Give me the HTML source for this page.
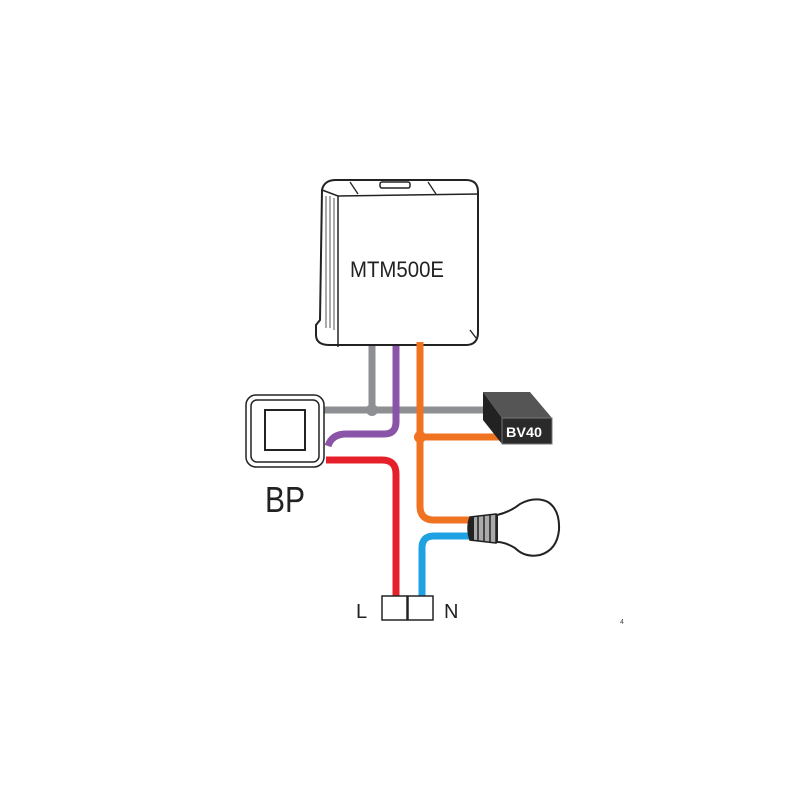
<!DOCTYPE html>
<html><head><style>body{margin:0;background:#fff}svg{display:block}</style></head>
<body>
<svg width="800" height="800" xmlns="http://www.w3.org/2000/svg">
<!-- MTM500E box -->
<path d="M322,190 Q324,180 336,180 L466,180 Q478,180 478,192 L478,332 Q478,345 466,345 L330,345 Q316,345 316,335 L316,325 L320,320 Z" fill="#fff" stroke="#222" stroke-width="2"/>
<path d="M322,190 L338,196 L478,194" fill="none" stroke="#222" stroke-width="1.5"/>
<line x1="338" y1="196" x2="338" y2="347" stroke="#222" stroke-width="1.5"/>
<path d="M326,196 L326,328 M330,196 L330,328 M334,198 L334,330" stroke="#555" stroke-width="1"/>
<rect x="380" y="182" width="30" height="6" rx="2" fill="#fff" stroke="#222" stroke-width="1.5"/>
<path d="M350,182 L358,194 M428,182 L436,194 M470,330 L476,338" stroke="#222" stroke-width="1.3"/>
<text x="350" y="277" font-family="Liberation Sans, sans-serif" font-size="22" fill="#222" textLength="94" lengthAdjust="spacingAndGlyphs">MTM500E</text>
<!-- wires -->
<g fill="none" stroke-width="7" stroke-linecap="butt">
<path d="M372,346 L372,410" stroke="#8e8f92"/>
<path d="M324,410 L488,410" stroke="#8e8f92"/>
<path d="M396,346 L396,422 Q396,434 384,434 L346,434 Q332,434 328,446" stroke="#8a55a8"/>
<path d="M420,342 L420,506 Q420,520 434,520 L472,520" stroke="#f07322"/>
<path d="M420,437 L502,437" stroke="#f07322"/>
<path d="M326,460 L382,460 Q396,460 396,474 L396,596" stroke="#e5202a"/>
<path d="M422,596 L422,548 Q422,536 434,536 L472,536" stroke="#1ea2e2"/>
</g>
<circle cx="372" cy="410" r="6" fill="#8e8f92"/>
<circle cx="420" cy="437" r="6" fill="#f07322"/>
<!-- BP switch -->
<rect x="246" y="395" width="78" height="72" rx="10" fill="#fff" stroke="#222" stroke-width="1.5"/>
<rect x="251" y="400" width="68" height="62" rx="6" fill="#fff" stroke="#222" stroke-width="1.5"/>
<rect x="265" y="410" width="40" height="40" fill="#fff" stroke="#222" stroke-width="2"/>
<text x="265" y="512" font-family="Liberation Sans, sans-serif" font-size="36" fill="#222" textLength="40" lengthAdjust="spacingAndGlyphs">BP</text>
<!-- BV40 -->
<polygon points="483,392 530,392 552,418 502,418" fill="#555"/>
<polygon points="483,392 502,418 502,444 483,420" fill="#222"/>
<rect x="502" y="418" width="50" height="26" fill="#2a2a2a" stroke="#777" stroke-width="1"/>
<text x="506" y="437" font-family="Liberation Sans, sans-serif" font-size="14" font-weight="bold" fill="#fff" textLength="36" lengthAdjust="spacingAndGlyphs">BV40</text>
<!-- bulb -->
<path d="M497,515 Q510,512 520,504 Q535,496 548,502 Q560,510 559,530 Q557,550 540,555 Q525,558 515,548 Q505,542 497,542 Z" fill="#fff" stroke="#222" stroke-width="2"/>
<path d="M470,517 L496,514 L496,543 L470,540 Q466,528 470,517 Z" fill="#aaa" stroke="#222" stroke-width="1.5"/>
<path d="M478,516 L478,541 M484,515 L484,542 M490,515 L490,542" stroke="#222" stroke-width="1.5"/>
<path d="M470,517 Q466,528 470,540 L474,540 L474,517 Z" fill="#222"/>
<!-- terminals -->
<rect x="382" y="596" width="25" height="24" fill="#fff" stroke="#222" stroke-width="1.5"/>
<rect x="408" y="596" width="25" height="24" fill="#fff" stroke="#222" stroke-width="1.5"/>
<line x1="407.5" y1="596" x2="407.5" y2="620" stroke="#222" stroke-width="2"/>
<text x="356" y="618" font-family="Liberation Sans, sans-serif" font-size="20" fill="#222">L</text>
<text x="444" y="618" font-family="Liberation Sans, sans-serif" font-size="20" fill="#222">N</text>
<text x="620" y="624" font-family="Liberation Sans, sans-serif" font-size="7" fill="#444">4</text>
</svg>
</body></html>
